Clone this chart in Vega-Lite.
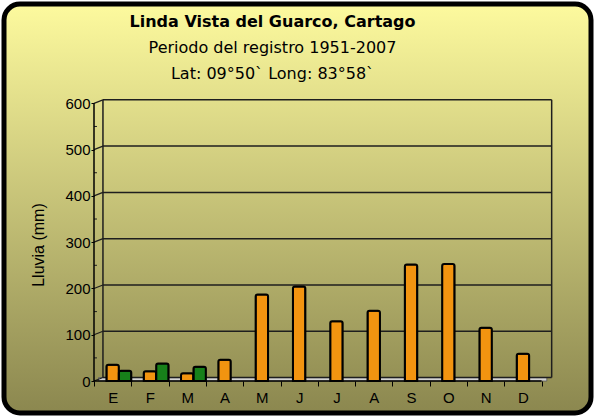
{
  "$schema": "https://vega.github.io/schema/vega-lite/v6.json",
  "width": 587,
  "height": 409,
  "padding": 4,
  "autosize": {"type": "none"},
  "background": "white",
  "config": {
    "view": {
      "fill": {"gradient": "linear", "x1": 0, "y1": 0, "x2": 0, "y2": 1,
        "stops": [{"offset": 0, "color": "#fdfa9e"}, {"offset": 1, "color": "#8b874f"}]},
      "stroke": "black",
      "strokeWidth": 5,
      "cornerRadius": 16
    }
  },
  "title": {
    "text": "Linda Vista del Guarco, Cartago",
    "subtitle": ["Periodo del registro 1951-2007", "Lat: 09°50` Long: 83°58`"],
    "anchor": "middle",
    "frame": "group",
    "offset": -78,
    "dx": -25,
    "font": "DejaVu Sans",
    "fontSize": 16,
    "fontWeight": "bold",
    "color": "black",
    "subtitleFont": "DejaVu Sans",
    "subtitleFontSize": 16,
    "subtitleFontWeight": "normal",
    "subtitleColor": "black",
    "subtitleLineHeight": 26,
    "subtitlePadding": 10
  },
  "datasets": {
    "lluvia": [
      {"mes": "Ene", "serie": "Lluvia", "valor": 35},
      {"mes": "Feb", "serie": "Lluvia", "valor": 21},
      {"mes": "Mar", "serie": "Lluvia", "valor": 17},
      {"mes": "Abr", "serie": "Lluvia", "valor": 46},
      {"mes": "May", "serie": "Lluvia", "valor": 187},
      {"mes": "Jun", "serie": "Lluvia", "valor": 204},
      {"mes": "Jul", "serie": "Lluvia", "valor": 129},
      {"mes": "Ago", "serie": "Lluvia", "valor": 152},
      {"mes": "Set", "serie": "Lluvia", "valor": 252},
      {"mes": "Oct", "serie": "Lluvia", "valor": 253},
      {"mes": "Nov", "serie": "Lluvia", "valor": 115},
      {"mes": "Dic", "serie": "Lluvia", "valor": 59},
      {"mes": "Ene", "serie": "Otra", "valor": 22},
      {"mes": "Feb", "serie": "Otra", "valor": 38},
      {"mes": "Mar", "serie": "Otra", "valor": 31}
    ],
    "grid": [
      {"v": 0}, {"v": 100}, {"v": 200}, {"v": 300}, {"v": 400}, {"v": 500}, {"v": 600}
    ],
    "minor": [
      {"v": 50}, {"v": 150}, {"v": 250}, {"v": 350}, {"v": 450}, {"v": 550}
    ]
  },
  "layer": [
    {
      "data": {"values": [{"a": 0}]},
      "mark": {"type": "rect", "fill": "#d4d4d4", "stroke": "#555555", "strokeWidth": 0.8},
      "encoding": {
        "x": {"datum": "Ene", "type": "nominal", "bandPosition": 0.12},
        "x2": {"datum": "Dic", "bandPosition": 1.14},
        "y": {"datum": 0, "type": "quantitative"},
        "y2": {"datum": 7.5}
      }
    },
    {
      "data": {"name": "grid"},
      "mark": {"type": "rule", "color": "#1e1e1e", "strokeWidth": 1.5, "yOffset": -3.5},
      "encoding": {
        "y": {"field": "v", "type": "quantitative"},
        "x": {"datum": "Ene", "type": "nominal", "bandPosition": 0.24},
        "x2": {"datum": "Dic", "bandPosition": 1.27}
      }
    },
    {
      "data": {"name": "grid"},
      "mark": {"type": "rule", "color": "#1e1e1e", "strokeWidth": 1.2, "y2Offset": -3.5},
      "encoding": {
        "y": {"field": "v", "type": "quantitative"},
        "y2": {"field": "v"},
        "x": {"datum": "Ene", "type": "nominal", "bandPosition": 0},
        "x2": {"datum": "Ene", "bandPosition": 0.24}
      }
    },
    {
      "data": {"name": "minor"},
      "mark": {"type": "rule", "color": "#1e1e1e", "strokeWidth": 1},
      "encoding": {
        "y": {"field": "v", "type": "quantitative"},
        "x": {"datum": "Ene", "type": "nominal", "bandPosition": 0},
        "x2": {"datum": "Ene", "bandPosition": 0.08}
      }
    },
    {
      "data": {"values": [{"a": 0}]},
      "mark": {"type": "rule", "color": "#1e1e1e", "strokeWidth": 1.5, "yOffset": -3.5, "y2Offset": -3.5},
      "encoding": {
        "x": {"datum": "Ene", "type": "nominal", "bandPosition": 0.24},
        "y": {"datum": 0, "type": "quantitative"},
        "y2": {"datum": 600}
      }
    },
    {
      "data": {"values": [{"a": 0}]},
      "mark": {"type": "rule", "color": "#1e1e1e", "strokeWidth": 1.5, "yOffset": -3.5, "y2Offset": -3.5},
      "encoding": {
        "x": {"datum": "Dic", "type": "nominal", "bandPosition": 1.27},
        "y": {"datum": 0, "type": "quantitative"},
        "y2": {"datum": 600}
      }
    },
    {
      "data": {"name": "lluvia"},
      "mark": {"type": "bar", "stroke": "black", "strokeWidth": 2, "cornerRadiusTopLeft": 2, "cornerRadiusTopRight": 2},
      "encoding": {
        "x": {
          "field": "mes", "type": "nominal",
          "scale": {
            "domain": ["Ene", "Feb", "Mar", "Abr", "May", "Jun", "Jul", "Ago", "Set", "Oct", "Nov", "Dic"],
            "range": [90, 537.6],
            "paddingInner": 0, "paddingOuter": 0
          },
          "axis": {
            "orient": "bottom", "offset": -32, "title": null, "domain": false, "grid": false,
            "tickBand": "extent", "tickSize": 5, "tickColor": "black", "tickWidth": 1,
            "labelAngle": 0, "labelAlign": "center", "labelFont": "Liberation Sans", "labelFontSize": 15, "labelColor": "black",
            "labelPadding": 11, "labelExpr": "substring(datum.label, 0, 1)"
          }
        },
        "xOffset": {
          "field": "serie", "type": "nominal",
          "scale": {"domain": ["_", "Lluvia", "Otra"], "paddingInner": 0, "paddingOuter": 0}
        },
        "y": {
          "field": "valor", "type": "quantitative",
          "scale": {"domain": [-69.1, 814.6], "nice": false, "zero": false},
          "axis": {
            "orient": "left", "offset": -90, "values": [0, 100, 200, 300, 400, 500, 600],
            "domain": false, "grid": false, "tickSize": 3, "tickColor": "black", "labelPadding": 1,
            "labelFont": "Liberation Sans", "labelFontSize": 15, "labelColor": "black",
            "title": "Lluvia (mm)", "titleFont": "Liberation Sans", "titleFontSize": 16,
            "titleFontWeight": "normal", "titleColor": "black", "titleAngle": -90,
            "titleX": -56, "titleY": 240.5, "titleAlign": "center", "titleBaseline": "middle"
          }
        },
        "color": {
          "field": "serie", "type": "nominal",
          "scale": {"domain": ["Lluvia", "Otra"], "range": ["#f29410", "#17801a"]},
          "legend": null
        }
      }
    },
    {
      "data": {"values": [{"a": 0}]},
      "mark": {"type": "rule", "color": "black", "strokeWidth": 1.5},
      "encoding": {
        "x": {"datum": "Ene", "type": "nominal", "bandPosition": 0},
        "x2": {"datum": "Dic", "bandPosition": 1},
        "y": {"datum": 0, "type": "quantitative"}
      }
    },
    {
      "data": {"values": [{"a": 0}]},
      "mark": {"type": "rule", "color": "black", "strokeWidth": 1.5},
      "encoding": {
        "x": {"datum": "Ene", "type": "nominal", "bandPosition": 0},
        "y": {"datum": 0, "type": "quantitative"},
        "y2": {"datum": 600}
      }
    }
  ]
}
